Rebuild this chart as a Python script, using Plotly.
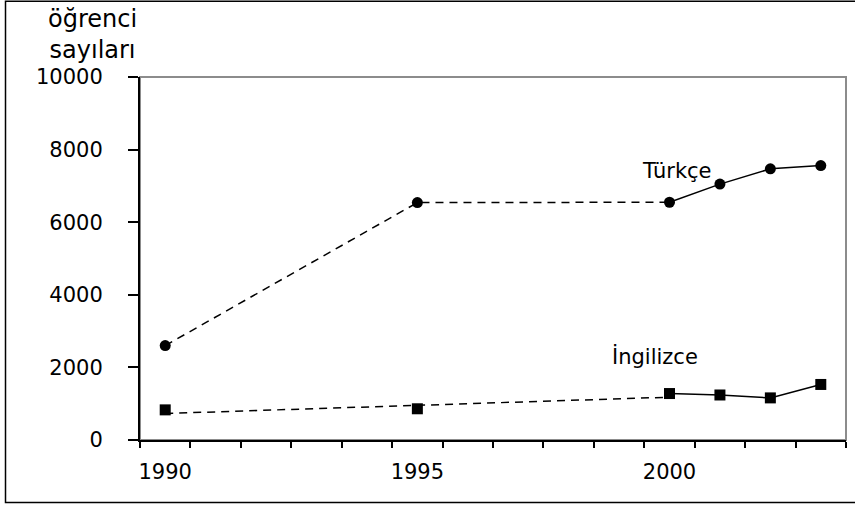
import plotly.graph_objs as go

years = [1990, 1995, 2000, 2001, 2002, 2003]
turkce = [2600, 6540, 6550, 7050, 7470, 7560]
ingilizce = [830, 860, 1280, 1240, 1160, 1530]

# dashed connectors over the years with missing data
turkce_dash_years = [1990, 1995, 2000]
turkce_dash = [2600, 6540, 6550]
ingilizce_dash_years = [1990, 2000]
ingilizce_dash = [730, 1180]

# solid part, yearly data
solid_years = [2000, 2001, 2002, 2003]
turkce_solid = [6550, 7050, 7470, 7560]
ingilizce_solid = [1280, 1240, 1160, 1530]

x_labels = [1990, 1995, 2000]
y_ticks = [0, 2000, 4000, 6000, 8000, 10000]

FONT = 'DejaVu Sans'
dash_style = '8px,6px'

graph_data = [
    go.Scatter(
        name='Türkçe kesikli',
        x=turkce_dash_years,
        y=turkce_dash,
        mode='lines',
        line=dict(color='black', width=1.5, dash=dash_style),
    ),
    go.Scatter(
        name='İngilizce kesikli',
        x=ingilizce_dash_years,
        y=ingilizce_dash,
        mode='lines',
        line=dict(color='black', width=1.5, dash=dash_style),
    ),
    go.Scatter(
        name='Türkçe çizgi',
        x=solid_years,
        y=turkce_solid,
        mode='lines',
        line=dict(color='black', width=1.5),
    ),
    go.Scatter(
        name='İngilizce çizgi',
        x=solid_years,
        y=ingilizce_solid,
        mode='lines',
        line=dict(color='black', width=1.5),
    ),
    go.Scatter(
        name='Türkçe',
        x=years,
        y=turkce,
        mode='markers',
        marker=dict(symbol='circle', size=11, color='black'),
    ),
    go.Scatter(
        name='İngilizce',
        x=years,
        y=ingilizce,
        mode='markers',
        marker=dict(symbol='square', size=11, color='black'),
    ),
]

layout = go.Layout(
    width=855,
    height=507,
    margin=dict(l=140, r=9, t=77, b=67),
    paper_bgcolor='white',
    plot_bgcolor='white',
    showlegend=False,
    font=dict(family=FONT, size=21, color='black'),
    xaxis=dict(
        range=[1989.5, 2003.5],
        tickvals=x_labels,
        ticks='',
        ticklabelstandoff=12,
        showgrid=False,
        zeroline=False,
        showline=True,
        linecolor='black',
        linewidth=2,
        minor=dict(
            tickvals=[1989.5 + i for i in range(15)],
            ticks='outside',
            ticklen=6,
            tickwidth=1.5,
            tickcolor='black',
            showgrid=False,
        ),
    ),
    yaxis=dict(
        range=[0, 10000],
        tickvals=y_ticks,
        ticktext=[str(v) for v in y_ticks],
        ticks='outside',
        ticklen=10,
        tickwidth=1.5,
        tickcolor='black',
        ticklabelstandoff=21,
        showgrid=False,
        zeroline=False,
        showline=True,
        linecolor='black',
        linewidth=2,
    ),
    shapes=[
        # plot area frame (grey)
        dict(type='rect', xref='paper', yref='paper', x0=0, x1=1, y0=0, y1=1,
             line=dict(color='#8c8c8c', width=2), layer='below'),
        # outer chart frame
        dict(type='rect', xref='paper', yref='paper',
             x0=-0.1905, x1=1.03, y0=-0.172, y1=1.209,
             line=dict(color='black', width=1.5)),
    ],
    annotations=[
        dict(text='öğrenci<br>sayıları', xref='paper', yref='paper',
             x=-0.0666, y=1.204, xanchor='center', yanchor='top',
             showarrow=False, align='center', font=dict(size=24)),
        dict(text='Türkçe', x=2000.15, y=7410, showarrow=False,
             xanchor='center', yanchor='middle'),
        dict(text='İngilizce', x=1999.71, y=2290, showarrow=False,
             xanchor='center', yanchor='middle'),
    ],
)

fig = go.Figure(data=graph_data, layout=layout)
fig.write_html('out.html', config={'displayModeBar': False},
               post_script="document.body.style.margin='0';")
